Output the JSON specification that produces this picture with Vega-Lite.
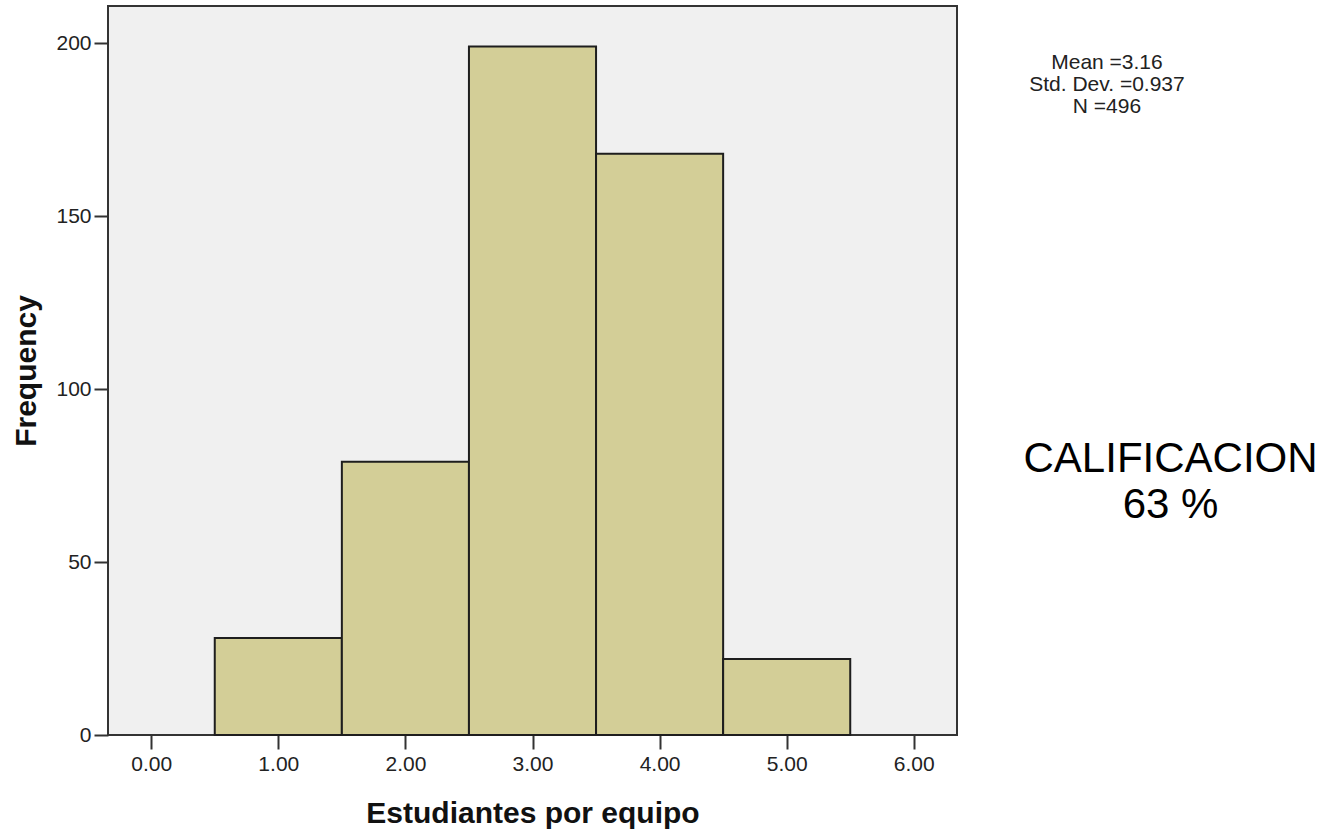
{
  "$schema": "https://vega.github.io/schema/vega-lite/v6.json",
  "width": 849,
  "height": 729,
  "autosize": "none",
  "padding": {"left": 108, "top": 6, "right": 371, "bottom": 100},
  "background": "white",
  "config": {
    "view": {"stroke": "#333333", "strokeWidth": 2, "fill": "#f0f0f0"},
    "font": "Liberation Sans"
  },
  "datasets": {
    "bins": [
      {"start": 0.5, "end": 1.5, "count": 28},
      {"start": 1.5, "end": 2.5, "count": 79},
      {"start": 2.5, "end": 3.5, "count": 199},
      {"start": 3.5, "end": 4.5, "count": 168},
      {"start": 4.5, "end": 5.5, "count": 22}
    ],
    "stats": [
      {"label": "Mean =3.16", "line": 1},
      {"label": "Std. Dev. =0.937", "line": 2},
      {"label": "N =496", "line": 3}
    ],
    "note": [
      {"label": "CALIFICACION", "line": 1},
      {"label": "63 %", "line": 2}
    ]
  },
  "resolve": {"scale": {"yOffset": "independent"}},
  "layer": [
    {
      "data": {"name": "bins"},
      "mark": {"type": "bar", "fill": "#d3ce97", "stroke": "#1e1e1e", "strokeWidth": 2},
      "encoding": {
        "x": {
          "field": "start",
          "type": "quantitative",
          "scale": {"domain": [-0.34, 6.34], "nice": false, "zero": false},
          "axis": {
            "title": "Estudiantes por equipo",
            "values": [0, 1, 2, 3, 4, 5, 6],
            "format": ".2f",
            "grid": false,
            "domain": false,
            "tickSize": 14,
            "tickWidth": 2,
            "tickColor": "#333333",
            "labelFontSize": 21,
            "labelColor": "#222222",
            "labelPadding": 4,
            "titleFontSize": 30,
            "titleFontWeight": "bold",
            "titleColor": "#111111",
            "titlePadding": 24
          }
        },
        "x2": {"field": "end"},
        "y": {
          "field": "count",
          "type": "quantitative",
          "scale": {"domain": [0, 210.7], "nice": false},
          "axis": {
            "title": "Frequency",
            "values": [0, 50, 100, 150, 200],
            "grid": false,
            "domain": false,
            "tickSize": 14,
            "tickWidth": 2,
            "tickColor": "#333333",
            "labelFontSize": 21,
            "labelColor": "#222222",
            "labelPadding": 3,
            "titleFontSize": 30,
            "titleFontWeight": "bold",
            "titleColor": "#111111",
            "titlePadding": 14
          }
        },
        "y2": {"datum": 0}
      }
    },
    {
      "data": {"name": "stats"},
      "mark": {"type": "text", "fontSize": 21, "fill": "#222222", "align": "center", "baseline": "middle"},
      "encoding": {
        "x": {"datum": 7.52, "type": "quantitative"},
        "y": {"datum": 188.0, "type": "quantitative"},
        "yOffset": {"field": "line", "type": "quantitative", "scale": {"domain": [1, 3], "range": [-22, 22]}},
        "text": {"field": "label"}
      }
    },
    {
      "data": {"name": "note"},
      "mark": {"type": "text", "fontSize": 42, "fill": "#000000", "align": "center", "baseline": "middle"},
      "encoding": {
        "x": {"datum": 8.02, "type": "quantitative"},
        "y": {"datum": 73.2, "type": "quantitative"},
        "yOffset": {"field": "line", "type": "quantitative", "scale": {"domain": [1, 2], "range": [-23, 23]}},
        "text": {"field": "label"}
      }
    }
  ]
}
